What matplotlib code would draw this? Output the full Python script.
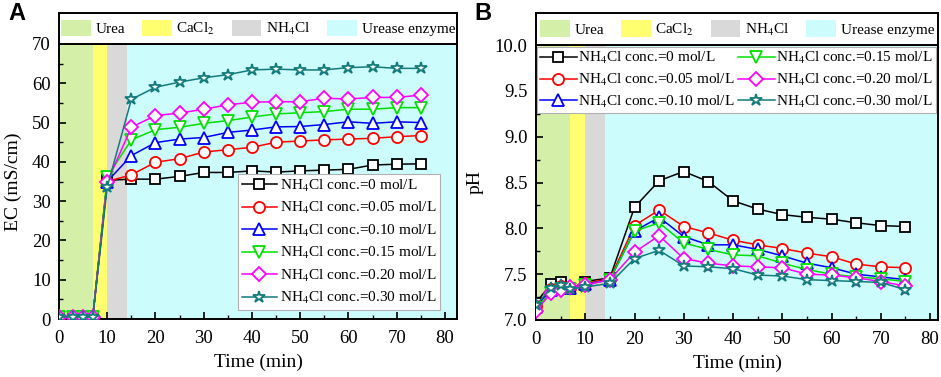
import matplotlib
matplotlib.use("Agg")
import matplotlib.pyplot as plt
from matplotlib.patches import Patch
from matplotlib.ticker import MultipleLocator, FormatStrFormatter

plt.rcParams['font.family'] = ['Liberation Serif', 'DejaVu Serif']
plt.rcParams['mathtext.fontset'] = 'stix'

# --- data -------------------------------------------------------------
time = [0, 3, 5, 7, 10, 15, 20, 25, 30, 35, 40, 45, 50, 55, 60, 65, 70, 75]

ec_000 = [0.5, 0.5, 0.5, 0.5, 35.3, 35.6, 35.6, 36.3, 37.3, 37.3, 37.7, 37.4, 37.7, 37.9, 38.1, 39.2, 39.4, 39.5]
ec_005 = [0.5, 0.5, 0.5, 0.5, 35.0, 36.7, 39.9, 40.8, 42.5, 43.1, 43.7, 45.0, 45.3, 45.6, 45.8, 46.0, 46.4, 46.7]
ec_010 = [0.5, 0.5, 0.5, 0.5, 35.0, 41.6, 44.9, 45.8, 46.2, 47.5, 48.1, 48.9, 49.0, 49.5, 50.2, 49.8, 50.2, 50.0]
ec_015 = [0.5, 0.5, 0.5, 0.5, 36.2, 45.6, 48.2, 48.8, 49.8, 50.5, 51.4, 52.2, 52.5, 52.8, 53.4, 53.4, 53.8, 53.8]
ec_020 = [0.5, 0.5, 0.5, 0.5, 34.9, 48.8, 51.8, 52.4, 53.4, 54.5, 55.2, 55.3, 55.3, 56.2, 56.0, 56.4, 56.4, 57.0]
ec_030 = [0.5, 0.5, 0.5, 0.5, 33.6, 55.9, 59.0, 60.3, 61.4, 62.2, 63.4, 63.6, 63.4, 63.4, 64.0, 64.2, 63.8, 63.8]

ph_000 = [7.19, 7.39, 7.41, 7.34, 7.42, 7.46, 8.23, 8.52, 8.62, 8.51, 8.30, 8.21, 8.15, 8.12, 8.10, 8.06, 8.03, 8.02]
ph_005 = [7.15, 7.34, 7.37, 7.35, 7.40, 7.45, 8.03, 8.20, 8.02, 7.95, 7.87, 7.82, 7.78, 7.73, 7.69, 7.61, 7.58, 7.57]
ph_010 = [7.14, 7.33, 7.36, 7.35, 7.39, 7.44, 7.97, 8.12, 7.91, 7.82, 7.82, 7.77, 7.70, 7.62, 7.57, 7.50, 7.47, 7.44]
ph_015 = [7.13, 7.30, 7.34, 7.34, 7.38, 7.44, 7.97, 8.06, 7.84, 7.77, 7.71, 7.70, 7.62, 7.55, 7.50, 7.47, 7.45, 7.42]
ph_020 = [7.10, 7.29, 7.33, 7.36, 7.38, 7.44, 7.74, 7.92, 7.67, 7.62, 7.59, 7.58, 7.57, 7.50, 7.49, 7.46, 7.42, 7.37]
ph_030 = [7.16, 7.35, 7.38, 7.34, 7.36, 7.40, 7.67, 7.76, 7.59, 7.58, 7.56, 7.49, 7.48, 7.44, 7.43, 7.42, 7.41, 7.33]

series_labels = [r'NH$_4$Cl conc.=0 mol/L', r'NH$_4$Cl conc.=0.05 mol/L', r'NH$_4$Cl conc.=0.10 mol/L',
                 r'NH$_4$Cl conc.=0.15 mol/L', r'NH$_4$Cl conc.=0.20 mol/L', r'NH$_4$Cl conc.=0.30 mol/L']
stage_names = ['Urea', r'CaCl$_2$', r'NH$_4$Cl', 'Urease enzyme']
stage_starts = [0, 7, 10, 14]

# --- styles -----------------------------------------------------------
colors = ['black', '#ff0000', '#0000ff', '#00e000', '#ff00ff', '#137b7b']
markers = ['s', 'o', '^', 'v', 'D', '*']
msizes = [6.5, 8, 8, 8, 7, 9]
stage_colors = ['#d4f0a8', '#ffff70', '#d9d9d9', '#ccfcfc']

fig = plt.figure(figsize=(9.41, 3.77), dpi=100)
W, H = 941, 377


def px_axes(l, t, r, b):
    return fig.add_axes([l / W, 1 - b / H, (r - l) / W, (b - t) / H])


def draw_panel(ax, ys, xmax, ylim):
    bounds = stage_starts + [xmax]
    for i, c in enumerate(stage_colors):
        ax.axvspan(bounds[i], bounds[i + 1], color=c, lw=0, zorder=0)
    for y, c, m, ms, lab in zip(ys, colors, markers, msizes, series_labels):
        ax.plot(time, y, color=c, marker=m, ms=ms, mfc='white', mec=c, mew=1.3, lw=1.1, label=lab, zorder=3)
    ax.set_xlim(0, xmax)
    ax.set_ylim(*ylim)
    ax.xaxis.set_major_locator(MultipleLocator(10))
    ax.xaxis.set_minor_locator(MultipleLocator(5))
    ax.tick_params(which='both', direction='in', labelsize=13.5, top=False, right=False, pad=6)
    ax.tick_params(axis='x', which='both', pad=8)
    ax.tick_params(which='major', length=5, width=1.2)
    ax.tick_params(which='minor', length=3, width=1.0)
    for s in ax.spines.values():
        s.set_linewidth(1.4)
    ax.set_xlabel('Time (min)', fontsize=14, labelpad=5)


def draw_stage_box(bax):
    bax.set_xticks([])
    bax.set_yticks([])
    for s in bax.spines.values():
        s.set_linewidth(1.4)
    handles = [Patch(facecolor=c, edgecolor='none') for c in stage_colors]
    bax.legend(handles, stage_names, ncol=4, loc='center', frameon=False, fontsize=11,
               handlelength=1.95, handleheight=1.3, handletextpad=0.3, columnspacing=1.1,
               borderaxespad=0.0, borderpad=0.1)


# panel A
axA = px_axes(59, 44, 457, 319)
draw_panel(axA, [ec_000, ec_005, ec_010, ec_015, ec_020, ec_030], 82.5, (0, 70))
axA.yaxis.set_major_locator(MultipleLocator(10))
axA.yaxis.set_minor_locator(MultipleLocator(5))
axA.set_ylabel('EC (mS/cm)', fontsize=14, labelpad=7)
legA = axA.legend(loc='lower right', fontsize=11, frameon=True, fancybox=False, edgecolor='#b0b0b0',
                  framealpha=1, handlelength=2.3, handletextpad=0.2, labelspacing=0.42, borderpad=0.25,
                  borderaxespad=0.0, bbox_to_anchor=(0.958, 0.033))
legA.get_frame().set_linewidth(0.8)
draw_stage_box(px_axes(59, 13, 457, 44))
fig.text(8 / W, 1 - 20 / H, 'A', fontsize=17, fontweight='bold', family='Liberation Sans', va='baseline')

# panel B
axB = px_axes(536, 45, 938, 320)
draw_panel(axB, [ph_000, ph_005, ph_010, ph_015, ph_020, ph_030], 81.6, (7.0, 10.0))
axB.yaxis.set_major_locator(MultipleLocator(0.5))
axB.yaxis.set_minor_locator(MultipleLocator(0.25))
axB.yaxis.set_major_formatter(FormatStrFormatter('%.1f'))
axB.set_ylabel('pH', fontsize=14, labelpad=8)
legB = axB.legend(loc='upper left', ncol=2, fontsize=11, frameon=True, fancybox=False, edgecolor='#b0b0b0',
                  framealpha=1, handlelength=2.4, handletextpad=0.12, labelspacing=0.38, borderpad=0.2,
                  columnspacing=0.2, bbox_to_anchor=(0.002, 0.993), borderaxespad=0.0)
legB.get_frame().set_linewidth(0.8)
draw_stage_box(px_axes(536, 13, 938, 45))
fig.text(474 / W, 1 - 20 / H, 'B', fontsize=17, fontweight='bold', family='Liberation Sans', va='baseline')

fig.savefig('out.png', dpi=100)
